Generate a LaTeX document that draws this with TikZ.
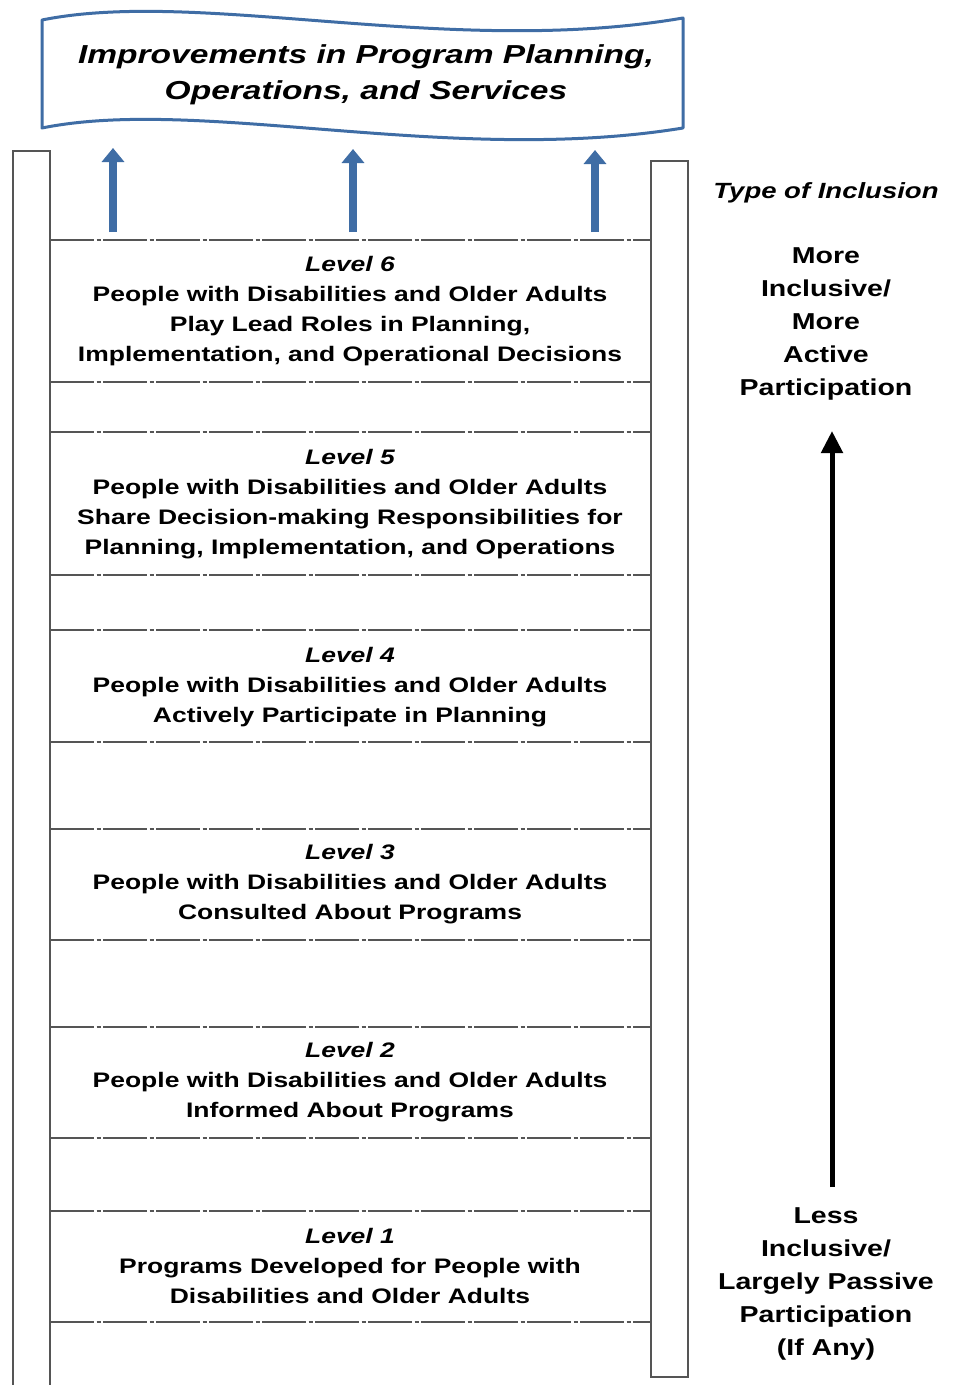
\documentclass[tikz,border=0pt]{standalone}
\usepackage{fontspec}
\setmainfont{Liberation Sans}
\usetikzlibrary{arrows.meta}
\definecolor{bannerblue}{HTML}{3F6DA5}
\definecolor{railgray}{HTML}{555555}
\begin{document}
\begin{tikzpicture}[x=1pt,y=-1pt,
  rail/.style={draw=railgray,line width=2pt,fill=white},
  rung/.style={draw=railgray,line width=2pt,dash pattern=on 44pt off 2.5pt on 4pt off 2.5pt},
  banner/.style={draw=bannerblue,line width=3pt,fill=white,line join=round},
  bannertext/.style={align=center,font=\fontsize{26}{36}\selectfont\bfseries\itshape,xscale=1.29,inner sep=0pt},
  leveltext/.style={align=center,font=\fontsize{21}{30}\selectfont\bfseries,xscale=1.26,inner sep=0pt},
  sidetext/.style={align=center,font=\fontsize{23}{33}\selectfont\bfseries,xscale=1.24,inner sep=0pt},
  sidehead/.style={align=center,font=\fontsize{22}{30}\selectfont\bfseries\itshape,xscale=1.25,inner sep=0pt},
  bluearrow/.style={draw=bannerblue,line width=8pt,-{Triangle[width=22pt,length=14pt]}},
  blackarrow/.style={draw=black,line width=5pt,-{Triangle[width=21pt,length=22pt]}},
]
\useasboundingbox (0,0) rectangle (964,1385);
\fill[white] (0,0) rectangle (964,1385);

% banner
\draw[banner] (42,20) .. controls (200,-12) and (450,58) .. (683,18)
  -- (683,128) .. controls (450,166) and (200,96) .. (42,128) -- cycle;
\node[bannertext] (title) at (366,75) {Improvements in Program Planning,\\Operations, and Services};

% rails
\draw[rail] (13,151) rectangle (50,1400);
\draw[rail] (651,161) rectangle (688,1377);

% rungs
\foreach \y in {240,382,432,575,630,742,829,940,1027,1138,1211,1322}
  \draw[rung] (50,\y) -- (651,\y);

% blue arrows
\coordinate (a1s) at (113,232); \coordinate (a1e) at (113,148);
\coordinate (a2s) at (353,232); \coordinate (a2e) at (353,149);
\coordinate (a3s) at (595,232); \coordinate (a3e) at (595,150);
\draw[bluearrow] (a1s) -- (a1e);
\draw[bluearrow] (a2s) -- (a2e);
\draw[bluearrow] (a3s) -- (a3e);

% level texts
\node[leveltext] (L6) at (350,311) {{\itshape Level 6}\\People with Disabilities and Older Adults\\Play Lead Roles in Planning,\\Implementation, and Operational Decisions};
\node[leveltext] (L5) at (350,504) {{\itshape Level 5}\\People with Disabilities and Older Adults\\Share Decision-making Responsibilities for\\Planning, Implementation, and Operations};
\node[leveltext] (L4) at (350,687) {{\itshape Level 4}\\People with Disabilities and Older Adults\\Actively Participate in Planning};
\node[leveltext] (L3) at (350,884) {{\itshape Level 3}\\People with Disabilities and Older Adults\\Consulted About Programs};
\node[leveltext] (L2) at (350,1082) {{\itshape Level 2}\\People with Disabilities and Older Adults\\Informed About Programs};
\node[leveltext] (L1) at (350,1266) {{\itshape Level 1}\\Programs Developed for People with\\Disabilities and Older Adults};

% right side
\node[sidehead] (type) at (826,193) {Type of Inclusion};
\node[sidetext] (more) at (826,324) {More\\Inclusive/\\More\\Active\\Participation};
\node[sidetext] (less) at (826,1284) {Less\\Inclusive/\\Largely Passive\\Participation\\(If Any)};
\coordinate (bs) at (832,1187);
\coordinate (be) at (832,431);
\draw[blackarrow] (bs) -- (be);
\end{tikzpicture}
\end{document}
